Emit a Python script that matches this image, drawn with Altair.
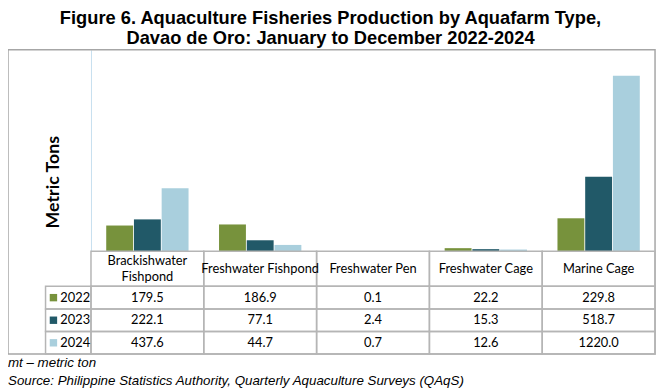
import altair as alt
import pandas as pd

# ---------------- data ----------------
categories = ["Brackishwater Fishpond", "Freshwater Fishpond", "Freshwater Pen",
              "Freshwater Cage", "Marine Cage"]
header_labels = ["Brackishwater\nFishpond", "Freshwater Fishpond", "Freshwater Pen",
                 "Freshwater Cage", "Marine Cage"]
years = ["2022", "2023", "2024"]
values_2022 = [179.5, 186.9, 0.1, 22.2, 229.8]
values_2023 = [222.1, 77.1, 2.4, 15.3, 518.7]
values_2024 = [437.6, 44.7, 0.7, 12.6, 1220.0]
colors = ["#77923c", "#215968", "#a9cfdd"]
title_lines = ["Figure 6. Aquaculture Fisheries Production by Aquafarm Type,",
               "Davao de Oro: January to December 2022-2024"]
y_label = "Metric Tons"
footnotes = ["mt \u2013 metric ton",
             "Source: Philippine Statistics Authority, Quarterly Aquaculture Surveys (QAqS)"]

series = {"2022": values_2022, "2023": values_2023, "2024": values_2024}

# ---------------- layout ----------------
W, H = 571, 308
PLOT_H = 204
TABLE_H = H - PLOT_H
HEADER_UNITS = 1.55
TOTAL_UNITS = HEADER_UNITS + len(years)
UNITS_PER_PX = TOTAL_UNITS / TABLE_H
LINE_H = 16
GRID = "#b5b5b5"
TFONT = "Lato"

bars_df = pd.DataFrame([
    {"category": c, "year": y, "value": v}
    for y in years for c, v in zip(categories, series[y])
])

rows = []
row_edges = {"header": (0, HEADER_UNITS)}
for i, y in enumerate(years):
    row_edges[y] = (HEADER_UNITS + i, HEADER_UNITS + i + 1)
for c, h in zip(categories, header_labels):
    y0, y1 = row_edges["header"]
    n_lines = h.count("\n") + 1
    rows.append({"category": c, "row": "header", "y0": y0, "y1": y1,
                 "yc": (y0 + y1) / 2 - (n_lines - 1) * LINE_H / 2 * UNITS_PER_PX, "text": h})
for y in years:
    y0, y1 = row_edges[y]
    for c, v in zip(categories, series[y]):
        rows.append({"category": c, "row": y, "y0": y0, "y1": y1,
                     "yc": (y0 + y1) / 2, "text": f"{v:.1f}"})
cells_df = pd.DataFrame(rows)
year_df = pd.DataFrame([
    {"year": y, "y0": row_edges[y][0], "y1": row_edges[y][1],
     "yc": (row_edges[y][0] + row_edges[y][1]) / 2}
    for y in years
])

x_scale = alt.Scale(domain=categories, paddingInner=0, paddingOuter=0)
x_enc = alt.X("category:N", scale=x_scale, axis=None)
table_scale = alt.Scale(domain=[0, TOTAL_UNITS], range=[PLOT_H, H], nice=False, zero=False)
color_enc = alt.Color("year:N", scale=alt.Scale(domain=years, range=colors), legend=None)

one = alt.Data(values=[{"k": 1}])

frame = alt.Chart(one).mark_rect(fillOpacity=0, stroke="#a6a6a6", strokeWidth=1.5).encode(
    x=alt.value(-84), x2=alt.value(W), y=alt.value(0), y2=alt.value(H))

bars = alt.Chart(bars_df).mark_bar().encode(
    x=x_enc,
    xOffset=alt.XOffset("year:N", scale=alt.Scale(domain=years, paddingInner=0.03, paddingOuter=0.55)),
    y=alt.Y("value:Q", scale=alt.Scale(domain=[0, 1400], range=[PLOT_H, 0], nice=False),
            axis=alt.Axis(labels=False, ticks=False, grid=False, title=None,
                          domainColor="#c6e0ef", domainWidth=1)),
    color=color_enc,
)

cells = alt.Chart(cells_df).mark_rect(fillOpacity=0, stroke=GRID, strokeWidth=1.5).encode(
    x=x_enc,
    y=alt.Y("y0:Q", scale=table_scale, axis=None),
    y2="y1:Q",
)

cell_text = alt.Chart(cells_df).mark_text(font=TFONT, fontSize=13, color="#000000",
                                          lineBreak="\n", lineHeight=LINE_H).encode(
    x=x_enc,
    y=alt.Y("yc:Q", scale=table_scale, axis=None),
    text="text:N",
)

year_cells = alt.Chart(year_df).mark_rect(fillOpacity=0, stroke=GRID, strokeWidth=1.5).encode(
    x=alt.value(-46), x2=alt.value(0),
    y=alt.Y("y0:Q", scale=table_scale, axis=None),
    y2="y1:Q",
)

swatches = alt.Chart(year_df).mark_point(shape="square", filled=True, size=56, opacity=1).encode(
    x=alt.value(-38),
    y=alt.Y("yc:Q", scale=table_scale, axis=None),
    color=color_enc,
)

year_text = alt.Chart(year_df).mark_text(font=TFONT, fontSize=13, align="left", color="#000000").encode(
    x=alt.value(-31),
    y=alt.Y("yc:Q", scale=table_scale, axis=None),
    text="year:N",
)

ylab = alt.Chart(alt.Data(values=[{"t": y_label}])).mark_text(
    font=TFONT, fontSize=18, fontWeight="bold", angle=270, color="#000000", baseline="middle").encode(
    x=alt.value(-37), y=alt.value(134), text="t:N")

foot = alt.Chart(alt.Data(values=[{"t": footnotes[0], "i": 0}, {"t": footnotes[1], "i": 1}])).mark_text(
    font="Liberation Sans", fontSize=13.5, fontStyle="italic", align="left", baseline="alphabetic",
    color="#000000").encode(
    x=alt.value(-84),
    y=alt.Y("i:Q", scale=alt.Scale(domain=[0, 1], range=[H + 13, H + 31], nice=False, zero=False),
            axis=None),
    text="t:N")

chart = alt.layer(frame, bars, cells, cell_text, year_cells, swatches, year_text, ylab, foot).resolve_scale(
    y="independent"
).properties(
    width=W, height=H,
    padding={"left": 84, "top": 40, "right": 3, "bottom": 35},
    autosize=alt.AutoSizeParams(type="none"),
    title=alt.TitleParams(text=title_lines, fontSize=18.5, font="Liberation Sans", fontWeight="bold",
                          anchor="middle", frame="group", dx=-43, offset=2, lineHeight=20,
                          color="#000000"),
).configure_view(stroke=None)

chart.save("out.html", embed_options={"renderer": "svg", "actions": False})
